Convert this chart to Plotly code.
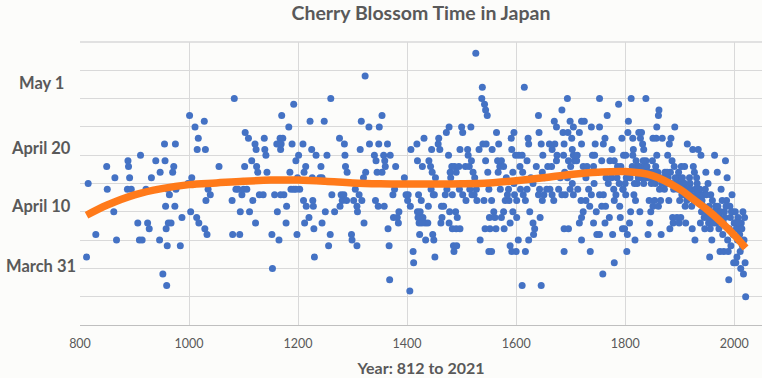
import plotly.graph_objects as go

points = [
    (812,92),(815,105),(829,96),(849,108),(850,104),(862,100),(864,106),(867,95),(888,109),(889,108),
    (891,106),(887,104),(894,104),(911,110),(906,98),(909,95),(914,95),(921,104),(924,98),(927,97),
    (931,106),(939,109),(947,107),(946,95),(952,89),(955,112),(956,109),(957,101),(958,97),(959,87),
    (960,94),(961,104),(964,103),(962,98),(967,98),(970,107),(972,108),(975,112),(974,101),(976,104),
    (984,94),(987,99),(998,105),(1001,117),(1003,100),(1005,106),(1011,115),(1014,99),(1017,113),(1015,111),
    (1018,98),(1028,116),(1030,111),(1035,104),(1039,103),(1031,102),(1029,97),(1033,96),(1055,108),
    (1083,120),(1079,102),(1080,96),(1093,96),(1086,104),(1094,100),(1097,103),(1102,108),(1103,114),(1109,113),
    (1111,100),(1115,109),(1117,102),(1121,112),(1123,111),(1122,98),(1124,108),(1126,107),(1129,103),(1138,113),
    (1139,111),(1141,110),(1143,107),(1136,103),(1153,90),(1152,96),(1157,103),(1162,100),(1165,95),(1161,112),
    (1167,113),(1170,117),(1172,113),(1168,111),(1174,103),(1179,101),(1178,98),(1183,115),(1189,112),(1192,119),
    (1185,107),(1187,104),(1196,109),(1201,110),(1199,106),(1198,96),(1203,104),(1209,112),(1214,108),(1211,107),
    (1210,102),(1212,98),(1215,101),(1220,99),(1222,116),(1225,111),(1227,102),(1228,101),(1230,92),(1229,97),
    (1233,110),(1226,106),(1242,108),(1244,98),(1248,116),(1250,100),(1253,110),(1256,94),(1259,96),(1260,120),
    (1262,103),(1267,100),(1276,113),(1285,112),(1286,110),(1287,108),(1290,107),(1279,103),(1281,102),(1277,101),
    (1298,96),(1299,95),(1302,102),(1090,104),(1100,104),(1106,104),(1169,112),(1165,112),(1168,103),(1192,104),
    (1196,104),(1240,106),(1244,106),(1284,103),(1289,102),
    (1323,124),(1316,116),(1330,115),(1354,117),(1349,115),(1314,111),(1331,112),(1348,112),(1364,112),(1340,110),
    (1343,109),(1357,110),(1369,110),(1359,109),(1360,108),(1345,107),(1354,107),(1379,108),(1324,107),(1320,106),
    (1305,104),(1312,103),(1317,102),(1308,101),(1309,100),(1321,98),(1308,94),(1365,97),(1367,94),(1368,88),
    (1374,103),(1377,104),(1342,102),(1347,101),(1358,101),(1382,99),(1385,100),(1375,99),(1384,98),(1395,106),
    (1401,102),(1402,103),(1406,101),(1407,111),(1411,93),(1412,91),(1405,86),(1418,112),(1419,109),(1421,103),
    (1419,100),(1422,98),(1423,96),(1425,99),(1426,102),(1428,108),(1431,113),(1434,95),(1433,98),(1438,98),
    (1439,101),(1440,109),(1443,108),(1445,111),(1446,107),(1450,103),(1447,96),(1449,95),(1451,92),(1452,106),
    (1457,112),(1458,113),(1460,111),(1463,101),(1462,98),(1467,101),(1464,99),(1472,114),(1477,115),(1476,110),
    (1479,107),(1480,106),(1482,108),(1478,100),(1477,98),(1483,97),(1490,97),(1497,97),(1485,94),(1486,93),
    (1491,94),(1483,103),(1489,100),(1492,99),(1487,108),(1490,107),(1495,108),(1497,111),(1500,115),(1502,114),
    (1511,111),(1512,110),(1507,108),(1514,108),(1517,115),(1518,109),(1521,107),(1524,106),(1526,128),(1502,103),
    (1508,102),(1523,103),(1528,102),(1532,111),(1534,95),(1538,122),(1537,120),(1542,119),(1544,118),(1547,117),
    (1543,97),(1539,112),(1545,112),(1544,109),(1548,107),(1541,102),(1550,93),(1551,99),(1420,99),(1424,100),
    (1427,98),(1429,99),(1444,104),(1448,103),(1398,103),(1470,103),(1473,104),(1496,104),(1500,105),(1515,104),
    (1527,104),(1519,103),
    (1564,114),(1568,112),(1556,111),(1566,109),(1573,109),(1570,108),(1577,108),(1567,107),(1582,106),(1550,104),
    (1555,102),(1559,100),(1561,99),(1552,97),(1563,97),(1555,93),(1573,99),(1577,100),(1580,102),(1587,102),
    (1578,97),(1591,113),(1596,114),(1592,111),(1599,110),(1605,110),(1611,110),(1607,108),(1612,107),(1594,107),
    (1596,105),(1597,103),(1601,102),(1594,100),(1601,99),(1589,98),(1589,94),(1592,93),(1600,93),(1604,95),
    (1615,122),(1611,87),(1646,87),(1617,93),(1623,95),(1622,113),(1623,112),(1620,109),(1617,102),(1625,100),
    (1631,98),(1634,97),(1632,96),(1644,99),(1631,105),(1637,108),(1641,117),(1642,114),(1646,112),(1649,110),
    (1648,107),(1652,106),(1643,104),(1641,103),(1651,103),(1648,102),(1656,104),(1658,108),(1665,108),(1661,112),
    (1666,111),(1671,112),(1670,116),(1674,115),(1675,110),(1674,109),(1669,102),(1678,104),(1681,106),(1684,118),
    (1686,114),(1688,112),(1687,110),(1689,107),(1690,103),(1688,97),(1696,97),(1688,93),(1694,120),(1695,114),
    (1699,116),(1702,113),(1703,111),(1705,115),(1707,109),(1696,109),(1694,106),(1703,105),(1699,104),(1705,103),
    (1720,116),(1725,116),(1716,114),(1720,112),(1711,109),(1723,108),(1730,108),(1728,106),(1719,102),(1723,100),
    (1720,99),(1716,98),(1720,95),(1736,93),(1728,102),(1735,101),(1742,98),(1747,100),(1738,115),(1740,110),
    (1744,110),(1742,108),(1747,107),(1743,105),(1753,120),(1753,115),(1760,112),(1763,113),(1767,117),(1757,109),
    (1753,103),(1760,103),(1757,101),(1763,98),(1764,101),(1748,96),(1753,96),(1759,89),(1780,91),(1777,96),
    (1771,99),(1769,105),(1775,106),(1776,111),(1772,109),(1780,109),(1788,119),(1794,113),(1785,106),(1789,105),
    (1790,101),(1791,99),(1795,97),(1797,110),(1780,102),(1765,106),(1662,104),(1666,103),(1684,103),(1713,104),
    (1733,104),(1738,103),(1700,108),(1705,110),(1712,110),(1745,112),(1779,104),(1783,103),(1796,104),(1792,108),
    (1786,108),(1584,103),(1586,104),(1571,104),(1608,104),(1613,103),(1620,104),(1627,106),
    (1811,120),(1838,120),(1862,118),(1861,117),(1806,116),(1858,115),(1891,115),(1805,114),(1825,114),(1830,114),
    (1814,113),(1828,113),(1851,113),(1857,113),(1868,113),(1884,113),(1832,112),(1881,112),(1914,112),(1834,111),
    (1815,111),(1924,111),(1934,111),(1801,110),(1814,110),(1858,110),(1878,110),(1939,110),(1964,110),(1820,109),
    (1838,109),(1850,109),(1886,109),(1984,109),(1823,108),(1856,108),(1890,108),(1903,108),(1909,108),(1925,108),
    (1883,107),(1927,107),(1948,107),(1969,107),(1807,107),(1802,106),(1825,106),(1841,106),(1864,106),(1896,106),
    (1931,106),(1987,106),(1800,105),(1822,105),(1834,105),(1867,105),(1872,104),(1909,105),(1937,104),(1952,105),
    (1976,104),(1796,104),(1801,103),(1816,103),(1904,103),(1936,103),(1957,103),(1996,103),(1819,102),(1844,102),
    (1854,102),(1865,102),(1880,102),(1900,102),(1913,102),(1960,102),(1978,102),(1986,102),(1851,101),(1861,101),
    (1910,101),(1922,101),(1966,101),(1810,100),(1827,100),(1847,100),(1940,100),(1997,100),(2016,100),(1887,99),
    (1895,99),(1902,99),(1958,99),(1945,99),(2007,99),(2019,99),(2000,98),(1808,98),(1845,98),(1888,98),
    (1899,98),(1911,98),(1938,98),(1953,98),(1967,98),(1980,98),(2013,98),(1882,97),(1923,97),(1946,97),
    (1956,97),(1972,97),(1991,97),(2009,97),(1799,97),(1804,96),(1842,96),(1866,96),(1979,96),(1998,96),
    (1818,95),(1928,95),(1959,95),(1988,95),(2006,95),(1994,94),(2015,94),(1803,93),(1974,93),(1981,93),
    (1989,93),(2011,93),(1955,92),(2005,92),(1999,91),(2003,91),(2020,91),(1990,88),(2017,89),(2021,85),
    (2012,90),(2018,95),
    (1941,102),(1943,101),(1944,103),(1950,100),(1951,99),(1954,101),(1961,100),(1962,98),(1963,99),(1965,100),
    (1968,99),(1970,101),(1971,100),(1973,99),(1975,100),(1982,100),(1983,99),(1985,101),(1992,101),(1993,99),
    (1995,100),(2001,98),(2002,100),(2004,97),(2008,98),(2010,96),(2014,97),(1917,104),(1918,106),(1919,105),
    (1920,104),(1921,103),(1926,102),(1929,104),(1930,103),(1932,105),(1933,104),(1935,102),(1947,104),(1949,103),
    (1870,106),(1873,107),(1875,106),(1876,105),(1877,107),(1879,106),(1885,105),(1889,104),(1892,106),(1893,105),
    (1897,104),(1898,107),(1901,105),(1905,106),(1906,104),(1907,103),(1908,105),(1912,104),(1915,103),(1916,104),
    (1809,106),(1812,107),(1813,108),(1817,105),(1821,107),(1824,106),(1826,108),(1829,107),(1831,106),(1833,109),
    (1835,107),(1836,108),(1837,106),(1839,107),(1840,108),(1843,107),(1846,106),(1848,105),(1849,107),(1852,106),
    (1853,107),(1855,105),(1859,106),(1860,107),(1863,104),
]
years = [p[0] for p in points]
bloom_day = [p[1] for p in points]

# Trend line (polynomial fit)
trend_years = [812, 850, 900, 950, 1000, 1050, 1100, 1150, 1200, 1250, 1300, 1350, 1400, 1450,
               1500, 1550, 1600, 1650, 1700, 1750, 1800, 1850, 1900, 1925, 1950, 1975, 2000, 2021]
trend_day = [99.4, 101.2, 103.0, 104.1, 104.8, 105.1, 105.4, 105.6, 105.6, 105.4, 105.1, 104.95, 104.9, 104.9,
             104.95, 105.1, 105.5, 106.0, 106.6, 107.0, 107.1, 106.4, 104.0, 102.2, 100.4, 98.3, 95.9, 93.6]

# Y-axis labels (as hand-placed on the original chart)
y_labels = ["May 1", "April 20", "April 10", "March 31"]
y_label_pos = [122.8, 111.3, 101.0, 90.5]

x_ticks = [800, 1000, 1200, 1400, 1600, 1800, 2000]

GREY = "#595959"
GRID = "#d9d9d9"
BG = "#fcfcfa"

fig = go.Figure()
fig.add_trace(go.Scatter(
    x=years, y=bloom_day, mode="markers",
    marker=dict(color="#4472c4", size=7, line=dict(width=0)),
    hoverinfo="x+y", showlegend=False,
))
fig.add_trace(go.Scatter(
    x=trend_years, y=trend_day, mode="lines",
    line=dict(color="#ff7a1a", width=7.5, shape="spline", smoothing=1.0),
    hoverinfo="skip", showlegend=False,
))

for lab, pos in zip(y_labels, y_label_pos):
    fig.add_annotation(
        text=lab, x=-0.057, y=pos, xref="paper", yref="y",
        xanchor="center", yanchor="middle", showarrow=False,
        font=dict(family="Lato", size=16.5, color=GREY, weight="bold"),
    )

fig.update_layout(
    width=762, height=378,
    margin=dict(l=80, r=0, t=42, b=53, autoexpand=False),
    paper_bgcolor=BG, plot_bgcolor=BG,
    title=dict(text="<b>Cherry Blossom Time in Japan</b>", x=0.5, xanchor="center",
               y=0.965, yanchor="middle", xref="paper",
               font=dict(family="Lato", size=19.5, color=GREY)),
    xaxis=dict(
        range=[800, 2051], tickvals=x_ticks, showgrid=True, gridcolor=GRID, gridwidth=1.3,
        zeroline=False, showline=True, linecolor="#bfbfbf", linewidth=1.3,
        ticks="outside", ticklen=7, tickcolor="rgba(0,0,0,0)",
        tickfont=dict(family="Lato", size=12.5, color=GREY),
        title=dict(text="<b>Year: 812 to 2021</b>", standoff=12,
                   font=dict(family="Lato", size=16, color=GREY)),
        automargin=False, fixedrange=True,
    ),
    yaxis=dict(
        range=[80, 130], dtick=5, tick0=80, showgrid=True, gridcolor=GRID, gridwidth=1.3,
        zeroline=False, showline=False, showticklabels=False, automargin=False, fixedrange=True,
    ),
)
fig.add_shape(type="line", xref="paper", yref="paper", x0=0, x1=1, y0=1, y1=1,
              line=dict(color=GRID, width=1.3))

fig.write_html("out.html",
               config={"displayModeBar": False},
               post_script="document.body.style.margin='0';document.body.style.background='#fcfcfa';")
